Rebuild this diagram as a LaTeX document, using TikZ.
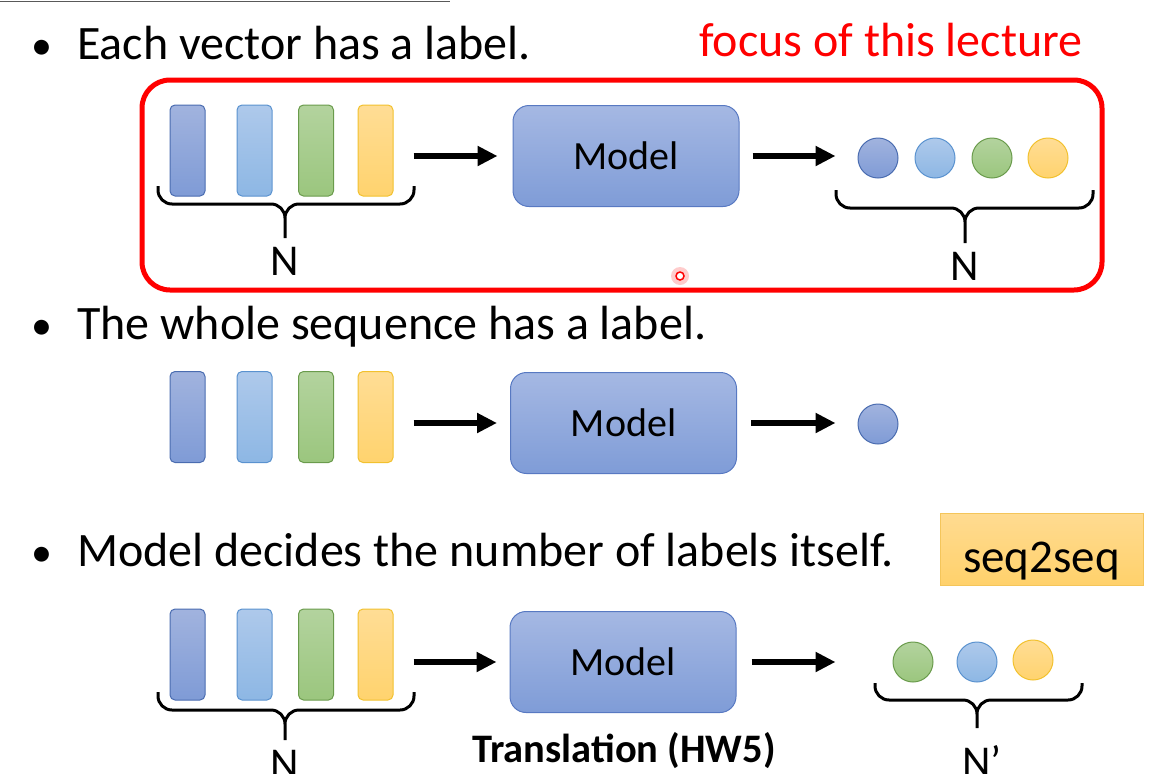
\documentclass[tikz,border=0pt]{standalone}
\usepackage{fontspec}
\setmainfont{Carlito}
\usetikzlibrary{arrows.meta}

\definecolor{blueline}{HTML}{4A6CB0}
\definecolor{bluetop}{HTML}{A1B3DE}
\definecolor{bluebot}{HTML}{7F9BD6}
\definecolor{skyline}{HTML}{5A92CF}
\definecolor{skytop}{HTML}{AEC9EB}
\definecolor{skybot}{HTML}{8DB7E4}
\definecolor{greenline}{HTML}{6A9B4C}
\definecolor{greentop}{HTML}{B3D39E}
\definecolor{greenbot}{HTML}{9BC67E}
\definecolor{yellowline}{HTML}{F2C12E}
\definecolor{yellowtop}{HTML}{FFDD95}
\definecolor{yellowbot}{HTML}{FFD36E}
\definecolor{modelline}{HTML}{5879C2}
\definecolor{modeltop}{HTML}{A5B8E3}
\definecolor{modelbot}{HTML}{7F9CD7}
\definecolor{tagline}{HTML}{F4C55A}
\definecolor{tagtop}{HTML}{FFDB91}
\definecolor{tagbot}{HTML}{FFD16B}

\begin{document}
\begin{tikzpicture}[x=1pt, y=-1pt,
  itemtext/.style={anchor=base west, inner sep=0pt,
    font=\fontsize{48}{57}\selectfont},
  bulletmark/.style={anchor=base, inner sep=0pt,
    font=\fontsize{42}{50}\selectfont},
  vecbar/.style={rectangle, rounded corners=5pt, line width=1pt,
    minimum width=35pt, minimum height=91pt, inner sep=0pt},
  dot/.style={circle, line width=1pt, minimum size=40pt, inner sep=0pt},
  cblue/.style={draw=blueline, top color=bluetop, bottom color=bluebot},
  csky/.style={draw=skyline, top color=skytop, bottom color=skybot},
  cgreen/.style={draw=greenline, top color=greentop, bottom color=greenbot},
  cyellow/.style={draw=yellowline, top color=yellowtop, bottom color=yellowbot},
  model/.style={rectangle, rounded corners=16pt, line width=1pt,
    draw=modelline, top color=modeltop, bottom color=modelbot,
    minimum width=226pt, minimum height=101pt,
    font=\fontsize{40}{48}\selectfont},
  tagbox/.style={rectangle, line width=1pt, draw=tagline,
    top color=tagtop, bottom color=tagbot,
    minimum width=203pt, minimum height=72pt,
    text height=46pt, text depth=0pt,
    font=\fontsize{47}{56}\selectfont},
  countlabel/.style={anchor=base, inner sep=0pt,
    font=\fontsize{44}{52}\selectfont},
  curly/.style={line width=3pt, rounded corners=14pt},
  arrow/.style={-{Triangle[length=20pt,width=19pt]}, line width=6pt},
]
\useasboundingbox (0,0) rectangle (1163,774);

\draw[black!65, line width=1.5pt] (0,1.5) -- (450,1.5);

\node[bulletmark] (b1) at (42,59) {•};
\node[itemtext] (t1) at (77,59) {Each vector has a label.};
\node[itemtext, text=red] (focus) at (699,56) {focus of this lecture};

\node[rectangle, draw=red, line width=5pt, rounded corners=28pt,
  minimum width=960pt, minimum height=210pt] (frame) at (622,185) {};

\fill[red!20] (680,276) circle (9pt);
\node[circle, draw=red, line width=1.5pt, fill=white,
  minimum size=8pt, inner sep=0pt] (pointer) at (680,276) {};

\node[vecbar, cblue] (v11) at (187.5,150.5) {};
\node[vecbar, csky] (v12) at (254.5,150.5) {};
\node[vecbar, cgreen] (v13) at (316,150.5) {};
\node[vecbar, cyellow] (v14) at (375.5,150.5) {};

\node[model] (m1) at (626,156) {Model};

\node[dot, cblue] (d11) at (878,158) {};
\node[dot, csky] (d12) at (935,158) {};
\node[dot, cgreen] (d13) at (992,158) {};
\node[dot, cyellow] (d14) at (1048,158) {};

\draw[arrow, shorten <=20pt, shorten >=15pt] (v14.east |- m1.west) -- (m1.west);
\draw[arrow, shorten <=13pt, shorten >=22pt] (m1.east) -- (m1.east -| d11.west);

\draw[curly] (158,186) -- (158,204) -- (285,204) -- (285,238)
  (414,186) -- (414,204) -- (285,204) -- (285,238);
\node[countlabel] (n1) at (285,275) {N};

\draw[curly] (836,190) -- (836,208) -- (965,208) -- (965,243)
  (1093,190) -- (1093,208) -- (965,208) -- (965,243);
\node[countlabel] (n2) at (965,280) {N};

\node[bulletmark] (b2) at (42,339) {•};
\node[itemtext] (t2) at (77,339) {The whole sequence has a label.};

\node[vecbar, cblue] (v21) at (187.5,417) {};
\node[vecbar, csky] (v22) at (254.5,417) {};
\node[vecbar, cgreen] (v23) at (316,417) {};
\node[vecbar, cyellow] (v24) at (375.5,417) {};

\node[model] (m2) at (623.5,423) {Model};

\node[dot, cblue] (d21) at (878,424) {};

\draw[arrow, shorten <=20pt, shorten >=13pt] (v24.east |- m2.west) -- (m2.west);
\draw[arrow, shorten <=14pt, shorten >=22pt] (m2.east) -- (m2.east -| d21.west);

\node[bulletmark] (b3) at (42,566) {•};
\node[itemtext] (t3) at (77,566) {Model decides the number of labels itself.};
\node[tagbox] (tag) at (1041.5,549) {seq2seq};

\node[vecbar, cblue] (v31) at (187.5,654.5) {};
\node[vecbar, csky] (v32) at (254.5,654.5) {};
\node[vecbar, cgreen] (v33) at (316,654.5) {};
\node[vecbar, cyellow] (v34) at (375.5,654.5) {};

\node[model] (m3) at (623,662) {Model};
\node[anchor=base, inner sep=0pt, font=\bfseries\fontsize{40.5}{48}\selectfont]
  (task) at (624,762) {Translation (HW5)};

\node[dot, cgreen] (d31) at (913,662) {};
\node[dot, csky] (d32) at (977,662) {};
\node[dot, cyellow] (d33) at (1033,660) {};

\draw[arrow, shorten <=20pt, shorten >=13pt] (v34.east |- m3.west) -- (m3.west);
\draw[arrow, shorten <=15pt, shorten >=57pt] (m3.east) -- (m3.east -| d31.west);

\draw[curly] (158,692) -- (158,710) -- (285,710) -- (285,740)
  (414,692) -- (414,710) -- (285,710) -- (285,740);
\node[countlabel] (n3) at (285,778) {N};

\draw[curly] (875,683) -- (875,700) -- (977,700) -- (977,728)
  (1082,683) -- (1082,700) -- (977,700) -- (977,728);
\node[countlabel] (n4) at (982,776) {N’};

\end{tikzpicture}
\end{document}
